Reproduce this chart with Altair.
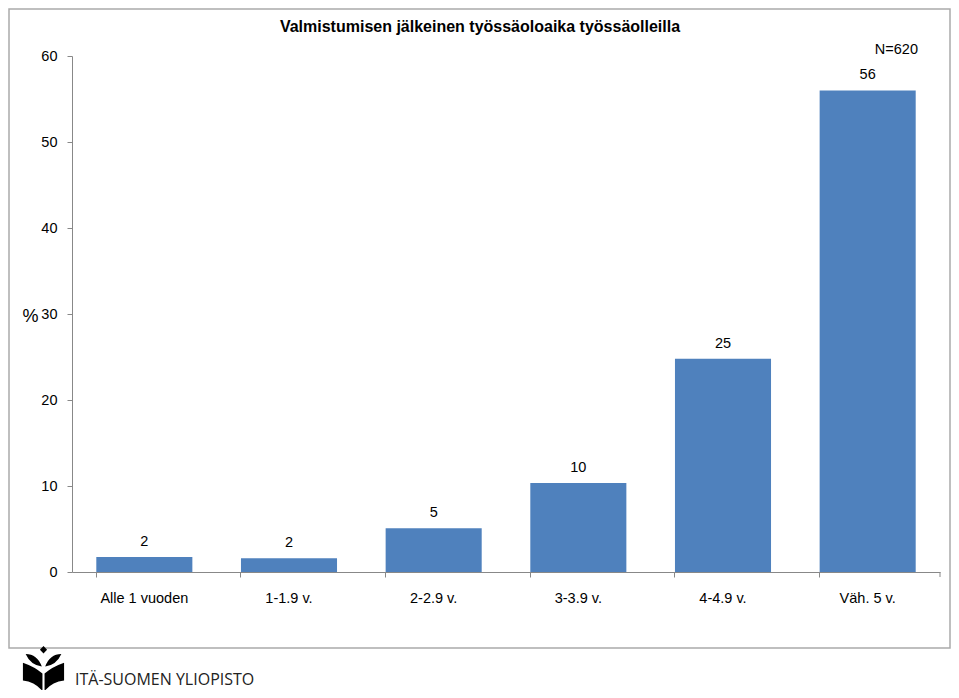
import altair as alt
import pandas as pd

categories = ["Alle 1 vuoden", "1-1.9 v.", "2-2.9 v.", "3-3.9 v.", "4-4.9 v.", "Väh. 5 v."]
values = [1.75, 1.6, 5.1, 10.35, 24.8, 56.0]
labels = ["2", "2", "5", "10", "25", "56"]
y_ticks = [0, 10, 20, 30, 40, 50, 60]

df = pd.DataFrame({"cat": categories, "val": values, "lab": labels})
one = pd.DataFrame({"k": [0]})

FONT = "Liberation Sans"
W, H = 868, 516

x_enc = alt.X("cat:N", sort=categories, title=None,
              scale=alt.Scale(paddingInner=0.336, paddingOuter=0.168),
              axis=alt.Axis(labelAngle=0, labelFontSize=14.5, labelFont=FONT, labelColor="#000",
                            labelPadding=14, tickSize=5, tickColor="#888", domainColor="#888",
                            bandPosition=0, grid=False))
y_enc = alt.Y("val:Q", title="%",
              scale=alt.Scale(domain=[0, 60], nice=False),
              axis=alt.Axis(values=y_ticks, labelFontSize=14.5, labelFont=FONT, labelColor="#000",
                            labelPadding=10, tickSize=5, tickColor="#888", domainColor="#888",
                            grid=False, titleAngle=0, titleX=-42, titleY=260,
                            titleFontSize=18, titleFont=FONT, titleFontWeight="normal",
                            titleColor="#000", titleBaseline="middle", titleAlign="center"))

base = alt.Chart(df)
bars = base.mark_bar(color="#4F81BD").encode(x=x_enc, y=y_enc)
text = base.mark_text(dy=-8, fontSize=14.5, font=FONT, color="#000", baseline="bottom").encode(
    x=alt.X("cat:N", sort=categories), y="val:Q", text="lab:N")

ann = alt.Chart(one)
end_tick = ann.mark_rule(color="#888").encode(
    x=alt.value(W), y=alt.value(H), y2=alt.value(H + 5))

border = ann.mark_rect(fill=None, stroke="#aaa", strokeWidth=1.5, clip=False).encode(
    x=alt.value(-63), x2=alt.value(878), y=alt.value(-47), y2=alt.value(592))

title = ann.mark_text(align="center", baseline="alphabetic", fontSize=16, font=FONT,
                      fontWeight="bold", color="#000").encode(
    x=alt.value(408), y=alt.value(-24),
    text=alt.value("Valmistumisen jälkeinen työssäoloaika työssäolleilla"))

n_text = ann.mark_text(align="right", baseline="middle", fontSize=14.5, font=FONT, color="#000").encode(
    x=alt.value(W - 22), y=alt.value(-6), text=alt.value("N=620"))

logo_text = ann.mark_text(align="left", baseline="middle", fontSize=16, font="Open Sans",
                          color="#222").encode(
    x=alt.value(3), y=alt.value(624), text=alt.value("ITÄ-SUOMEN YLIOPISTO"))

logo_path = (
    "M0,-1.1 L0.17,-0.92 L0,-0.74 L-0.17,-0.92 Z "
    "M-0.85,-0.72 Q-0.3,-0.72 -0.08,-0.12 Q-0.62,-0.2 -0.85,-0.72 Z "
    "M0.85,-0.72 Q0.3,-0.72 0.08,-0.12 Q0.62,-0.2 0.85,-0.72 Z "
    "M-0.98,-0.3 Q-0.4,-0.1 -0.05,0.22 L-0.05,1.05 Q-0.4,0.62 -0.98,0.55 Z "
    "M0.98,-0.3 Q0.4,-0.1 0.05,0.22 L0.05,1.05 Q0.4,0.62 0.98,0.55 Z"
)
logo = ann.mark_point(shape=logo_path, filled=True, fill="#000", stroke=None, opacity=1,
                      size=1764).encode(x=alt.value(-28.5), y=alt.value(613))

chart = alt.layer(border, bars, text, end_tick, title, n_text, logo_text, logo).properties(
    width=W, height=H,
    autosize=alt.AutoSizeParams(type="none"),
    padding={"left": 64, "top": 48, "right": 11, "bottom": 118},
).configure_view(stroke=None)

chart.save("out.html", embed_options={"renderer": "svg", "actions": False})
